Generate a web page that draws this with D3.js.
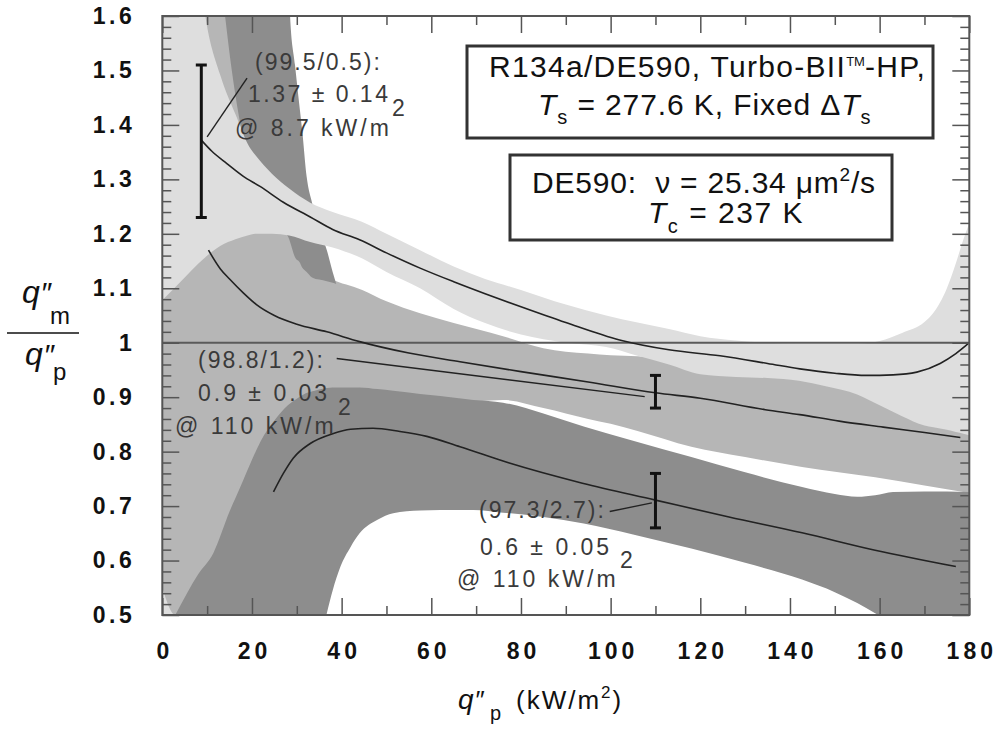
<!DOCTYPE html>
<html>
<head>
<meta charset="utf-8">
<script src="https://cdn.jsdelivr.net/npm/d3@7"></script>
<style>
  html, body { margin: 0; padding: 0; background: #fff; }
  svg { display: block; font-family: "Liberation Sans", Arial, Helvetica, sans-serif; }
  text { white-space: pre; }
</style>
</head>
<body>
<svg id="chart" width="997" height="729"></svg>
<script>
// ---------------- data ----------------
// Axis ticks
const xMajorTicks = [0, 20, 40, 60, 80, 100, 120, 140, 160, 180];
const xMinorTicks = [10, 30, 50, 70, 90, 110, 130, 150, 170];
const yMajorTicks = [0.5, 0.6, 0.7, 0.8, 0.9, 1.0, 1.1, 1.2, 1.3, 1.4, 1.5, 1.6];

// 99.5/0.5 mixture: fitted curve and its confidence band
const curve995Q = [8.7, 11, 14.4, 18, 21.8, 27, 33, 38, 44, 50, 57.5, 65, 72, 80, 90, 102, 113, 124.4, 135, 142.2, 150, 157, 163, 168.3, 173.5, 177, 180];
const curve995V = [1.372, 1.352, 1.329, 1.306, 1.287, 1.258, 1.231, 1.208, 1.189, 1.165, 1.137, 1.112, 1.09, 1.066, 1.037, 1.005, 0.987, 0.976, 0.962, 0.952, 0.944, 0.94, 0.941, 0.946, 0.962, 0.98, 1.0];
const band995Q  = [0, 5, 8, 9.6, 13, 16.3, 19.4, 20.7, 24.5, 28.3, 33, 38, 44.5, 50, 57.5, 65, 72, 80, 90, 99, 106, 113, 120, 128, 135, 142, 148, 155, 160, 165, 170, 172, 175, 177, 178.7, 180];
const band995Hi = [1.8, 1.8, 1.7, 1.6, 1.49, 1.42, 1.36, 1.345, 1.31, 1.283, 1.257, 1.24, 1.222, 1.2, 1.17, 1.14, 1.117, 1.097, 1.07, 1.05, 1.037, 1.025, 1.012, 1.004, 1.0, 0.998, 0.998, 0.998, 1.003, 1.018, 1.038, 1.055, 1.1, 1.146, 1.19, 1.22];
const band995Lo = [1.078, 1.12, 1.145, 1.157, 1.178, 1.19, 1.198, 1.2, 1.2, 1.197, 1.185, 1.175, 1.155, 1.13, 1.1, 1.062, 1.036, 1.015, 1.0, 0.992, 0.976, 0.96, 0.942, 0.937, 0.935, 0.93, 0.92, 0.905, 0.885, 0.865, 0.848, 0.845, 0.84, 0.836, 0.833, 0.83];
// lower-left branch of the same band
const tail995Q  = [0, 3.5];
const tail995Lo = [0.3, 0.3];
const tail995Hi = [0.62, 0.62];

// 98.8/1.2 mixture
const curve988Q = [10.3, 13, 15, 18, 21, 25, 30, 36.7, 44, 55, 66.4, 80, 95, 110, 120, 134.5, 142.2, 151, 160.8, 170, 178];
const curve988V = [1.17, 1.135, 1.117, 1.092, 1.07, 1.05, 1.034, 1.02, 1.002, 0.981, 0.965, 0.947, 0.928, 0.908, 0.898, 0.877, 0.868, 0.856, 0.845, 0.835, 0.826];
const band988Q  = [0, 2.9, 10, 20, 28, 30, 33.4, 35, 37.5, 44.6, 50, 57.5, 65, 76, 85, 95, 100, 106, 118, 130, 142.7, 159, 170, 180];
const band988Hi = [1.12, 1.14, 1.19, 1.22, 1.21, 1.19, 1.15, 1.13, 1.118, 1.097, 1.076, 1.054, 1.036, 1.012, 0.99, 0.98, 0.977, 0.975, 0.965, 0.955, 0.945, 0.92, 0.89, 0.86];
const band988Lo = [0.55, 0.5, 0.55, 0.7, 0.8, 0.83, 0.86, 0.865, 0.87, 0.875, 0.878, 0.882, 0.888, 0.895, 0.88, 0.86, 0.851, 0.838, 0.809, 0.79, 0.772, 0.753, 0.738, 0.724];
// upper branch of the same band
const wing988Q  = [9, 12, 15, 17.5];
const wing988Lo = [1.35, 1.35, 1.35, 1.35];
const wing988Hi = [1.8, 1.8, 1.8, 1.8];

// 97.3/2.7 mixture
const curve973Q = [24.8, 27, 29.2, 33, 38, 42, 47, 53, 59, 66.4, 77.4, 93.7, 110, 126.4, 142.7, 159, 177];
const curve973V = [0.726, 0.76, 0.788, 0.815, 0.833, 0.841, 0.843, 0.837, 0.828, 0.809, 0.779, 0.742, 0.711, 0.68, 0.651, 0.619, 0.589];
const band973Q  = [2.9, 8, 11.4, 15, 17.4, 20, 22, 25, 28, 30, 32, 34, 35.5, 36.7, 38, 39.7, 42, 44, 48, 51.5, 57.5, 62, 69.4, 76, 85, 94, 105, 118, 130, 142.7, 150, 155, 159, 163, 170, 175, 180];
const band973Hi = [0.5, 0.575, 0.614, 0.69, 0.735, 0.785, 0.82, 0.857, 0.885, 0.897, 0.907, 0.912, 0.915, 0.917, 0.918, 0.918, 0.918, 0.918, 0.915, 0.912, 0.906, 0.902, 0.895, 0.89, 0.87, 0.846, 0.82, 0.79, 0.762, 0.735, 0.722, 0.717, 0.72, 0.726, 0.727, 0.727, 0.726];
const band973Lo = [0.2, 0.2, 0.2, 0.2, 0.2, 0.2, 0.2, 0.2, 0.25, 0.3, 0.35, 0.41, 0.46, 0.503, 0.545, 0.588, 0.625, 0.65, 0.675, 0.687, 0.692, 0.693, 0.693, 0.688, 0.68, 0.668, 0.648, 0.622, 0.596, 0.565, 0.542, 0.522, 0.503, 0.483, 0.445, 0.415, 0.38];
// upper branch of the same band
const wing973Q  = [14, 15.5, 17, 20, 24, 27, 28.3, 28.5, 29.6, 30.7, 31.2, 32.2, 33.4, 35, 36.7, 38, 38.8];
const wing973Lo = [1.6, 1.5, 1.42, 1.3, 1.24, 1.205, 1.19, 1.185, 1.157, 1.147, 1.138, 1.13, 1.12, 1.116, 1.113, 1.11, 1.108];
const wing973Hi = [1.8, 1.8, 1.8, 1.8, 1.8, 1.8, 1.66, 1.6, 1.51, 1.427, 1.39, 1.305, 1.257, 1.21, 1.17, 1.13, 1.108];

// Uncertainty bars
const errQ    = [8.7, 110, 110];
const errMid  = [1.37, 0.91, 0.71];
const errHalf = [0.14, 0.03, 0.05];

// Leader lines from labels to the bars: [q1, v1, q2, v2]
const leaderLines = [[10, 1.378, 18.9, 1.486], [38.9, 0.971, 107.6, 0.901], [99.8, 0.69, 109.2, 0.706]];

// ---------------- layout ----------------
const svg = d3.select("#chart");
const P = { left: 162.3, right: 969.3, top: 16, bottom: 615 };
const x = d3.scaleLinear().domain([0, 180]).range([P.left, P.right]);
const y = d3.scaleLinear().domain([0.5, 1.6]).range([P.bottom, P.top]);

const C = { light: "#dedede", mid: "#b6b6b6", dark: "#8d8d8d", frame: "#555", ink: "#111", note: "#3a3a3a" };

svg.append("defs").append("clipPath").attr("id", "plotClip")
  .append("rect").attr("x", P.left).attr("y", P.top)
  .attr("width", P.right - P.left).attr("height", P.bottom - P.top);

const zip3 = (q, lo, hi) => q.map((v, i) => ({ q: v, lo: lo[i], hi: hi[i] }));
const zip2 = (q, v) => q.map((d, i) => ({ q: d, v: v[i] }));

const area = d3.area()
  .x(d => x(d.q)).y0(d => y(d.lo)).y1(d => y(d.hi))
  .curve(d3.curveMonotoneX);
const line = d3.line().x(d => x(d.q)).y(d => y(d.v)).curve(d3.curveMonotoneX);

const plotG = svg.append("g").attr("clip-path", "url(#plotClip)");

// confidence bands, back to front
const bandLayers = [
  { d: zip3(tail995Q, tail995Lo, tail995Hi), fill: C.light },
  { d: zip3(band988Q, band988Lo, band988Hi), fill: C.mid },
  { d: zip3(wing988Q, wing988Lo, wing988Hi), fill: C.mid },
  { d: zip3(band973Q, band973Lo, band973Hi), fill: C.dark },
  { d: zip3(wing973Q, wing973Lo, wing973Hi), fill: C.dark },
  { d: zip3(band995Q, band995Lo, band995Hi), fill: C.light }
];
plotG.selectAll("path.band").data(bandLayers).join("path")
  .attr("class", "band").attr("d", b => area(b.d)).attr("fill", b => b.fill);

// unity reference line
plotG.append("line")
  .attr("x1", x(0)).attr("x2", x(180)).attr("y1", y(1)).attr("y2", y(1))
  .attr("stroke", "#5a5a5a").attr("stroke-width", 2);

// fitted curves
const curves = [zip2(curve995Q, curve995V), zip2(curve988Q, curve988V), zip2(curve973Q, curve973V)];
plotG.selectAll("path.fit").data(curves).join("path")
  .attr("class", "fit").attr("d", line)
  .attr("fill", "none").attr("stroke", "#222").attr("stroke-width", 1.6);

// leader lines
plotG.selectAll("line.leader").data(leaderLines).join("line")
  .attr("class", "leader")
  .attr("x1", d => x(d[0])).attr("y1", d => y(d[1]))
  .attr("x2", d => x(d[2])).attr("y2", d => y(d[3]))
  .attr("stroke", "#222").attr("stroke-width", 1.4);

// uncertainty bars
const errG = svg.append("g").attr("stroke", "#111").attr("stroke-width", 3).attr("fill", "none");
errQ.forEach((q, i) => {
  const cx = x(q), yt = y(errMid[i] + errHalf[i]), yb = y(errMid[i] - errHalf[i]);
  errG.append("line").attr("x1", cx).attr("x2", cx).attr("y1", yt).attr("y2", yb);
  errG.append("line").attr("x1", cx - 5.5).attr("x2", cx + 5.5).attr("y1", yt).attr("y2", yt);
  errG.append("line").attr("x1", cx - 5.5).attr("x2", cx + 5.5).attr("y1", yb).attr("y2", yb);
});

// ---------------- axes ----------------
const yMinorTicks = d3.range(50, 161, 2).map(v => v / 100).filter(v => Math.round(v * 100) % 10 !== 0);
const fmtY = v => (Math.abs(v - 1) < 1e-9 ? "1" : d3.format(".1f")(v));

function styleAxis(g) {
  g.select(".domain").remove();
  g.selectAll(".tick line").attr("stroke", C.frame).attr("stroke-width", 1.5);
}

// left
svg.append("g").attr("transform", `translate(${P.left},0)`)
  .call(d3.axisLeft(y).tickValues(yMinorTicks).tickSize(-9).tickFormat(""))
  .call(styleAxis);
const yAx = svg.append("g").attr("transform", `translate(${P.left},0)`)
  .call(d3.axisLeft(y).tickValues(yMajorTicks).tickSize(-17).tickPadding(27).tickFormat(fmtY))
  .call(styleAxis);
yAx.selectAll(".tick text")
  .attr("font-family", '"Liberation Sans", Arial, sans-serif')
  .attr("font-size", 23).attr("font-weight", "bold").attr("fill", C.ink)
  .attr("letter-spacing", 3.5);

// right
svg.append("g").attr("transform", `translate(${P.right},0)`)
  .call(d3.axisRight(y).tickValues(yMinorTicks).tickSize(-9).tickFormat(""))
  .call(styleAxis);
svg.append("g").attr("transform", `translate(${P.right},0)`)
  .call(d3.axisRight(y).tickValues(yMajorTicks).tickSize(-17).tickFormat(""))
  .call(styleAxis);

// bottom
svg.append("g").attr("transform", `translate(0,${P.bottom})`)
  .call(d3.axisBottom(x).tickValues(xMinorTicks).tickSize(-9).tickFormat(""))
  .call(styleAxis);
const xAx = svg.append("g").attr("transform", `translate(0,${P.bottom})`)
  .call(d3.axisBottom(x).tickValues(xMajorTicks).tickSize(-17).tickPadding(28).tickFormat(d3.format("d")))
  .call(styleAxis);
xAx.selectAll(".tick text")
  .attr("font-family", '"Liberation Sans", Arial, sans-serif')
  .attr("font-size", 23).attr("font-weight", "bold").attr("fill", C.ink)
  .attr("letter-spacing", 4).attr("dx", 2);

// top
svg.append("g").attr("transform", `translate(0,${P.top})`)
  .call(d3.axisTop(x).tickValues(xMinorTicks).tickSize(-9).tickFormat(""))
  .call(styleAxis);
svg.append("g").attr("transform", `translate(0,${P.top})`)
  .call(d3.axisTop(x).tickValues(xMajorTicks).tickSize(-17).tickFormat(""))
  .call(styleAxis);

// frame
svg.append("rect").attr("x", P.left).attr("y", P.top)
  .attr("width", P.right - P.left).attr("height", P.bottom - P.top)
  .attr("fill", "none").attr("stroke", C.frame).attr("stroke-width", 2);

// ---------------- axis titles ----------------
// q''_m / q''_p written as a stacked fraction
const yt = svg.append("g").attr("fill", C.ink);
const num = yt.append("text").attr("x", 22).attr("y", 303).attr("font-size", 32);
num.append("tspan").attr("font-style", "italic").text("q");
num.append("tspan").attr("font-size", 30).attr("dx", 2).text("″");
num.append("tspan").attr("font-size", 24).attr("x", 50).attr("dy", 21).text("m");
yt.append("line").attr("x1", 7).attr("x2", 79).attr("y1", 333).attr("y2", 333)
  .attr("stroke", C.ink).attr("stroke-width", 1.5);
const den = yt.append("text").attr("x", 25).attr("y", 365).attr("font-size", 32);
den.append("tspan").attr("font-style", "italic").text("q");
den.append("tspan").attr("font-size", 30).attr("dx", 2).text("″");
den.append("tspan").attr("font-size", 24).attr("x", 53).attr("dy", 15).text("p");

const xt = svg.append("text").attr("x", 458).attr("y", 709).attr("font-size", 28).attr("fill", C.ink);
xt.append("tspan").attr("font-style", "italic").text("q");
xt.append("tspan").attr("font-size", 26).attr("dx", 2).text("″");
xt.append("tspan").attr("font-size", 20).attr("x", 490).attr("dy", 11).text("p");
xt.append("tspan").attr("font-size", 26).attr("letter-spacing", 2).attr("x", 516).attr("dy", -11).text("(kW/m");
xt.append("tspan").attr("font-size", 17).attr("letter-spacing", 2).attr("dy", -11).text("2");
xt.append("tspan").attr("font-size", 26).attr("letter-spacing", 2).attr("dy", 11).text(")");

// ---------------- annotations ----------------
const notes = [
  { x: 255, y: 70,  t: "(99.5/0.5):", ls: 2 },
  { x: 248, y: 102, t: "1.37 ± 0.14", ls: 2.5 },
  { x: 392, y: 116, t: "2", ls: 0 },
  { x: 235, y: 136, t: "@ 8.7 kW/m", ls: 3 },
  { x: 198, y: 368, t: "(98.8/1.2):", ls: 2 },
  { x: 198, y: 401, t: "0.9 ± 0.03", ls: 3 },
  { x: 338, y: 415, t: "2", ls: 0 },
  { x: 175, y: 434, t: "@ 110 kW/m", ls: 3 },
  { x: 479, y: 518, t: "(97.3/2.7):", ls: 2 },
  { x: 480, y: 555, t: "0.6 ± 0.05", ls: 3 },
  { x: 620, y: 568, t: "2", ls: 0 },
  { x: 457, y: 587, t: "@ 110 kW/m", ls: 3 }
];
svg.append("g").selectAll("text").data(notes).join("text")
  .attr("x", d => d.x).attr("y", d => d.y)
  .attr("font-size", 23).attr("letter-spacing", d => d.ls).attr("fill", C.note)
  .text(d => d.t);

// ---------------- info boxes ----------------
const boxes = svg.append("g");
boxes.append("rect").attr("x", 467).attr("y", 46).attr("width", 466).attr("height", 92)
  .attr("fill", "#fff").attr("stroke", "#333").attr("stroke-width", 3);
boxes.append("rect").attr("x", 510).attr("y", 155).attr("width", 382).attr("height", 85)
  .attr("fill", "#fff").attr("stroke", "#333").attr("stroke-width", 3);

const b1 = boxes.append("text").attr("x", 489).attr("y", 77).attr("font-size", 30).attr("fill", C.ink).attr("letter-spacing", 1.3);
b1.append("tspan").text("R134a/DE590, Turbo-BII");
b1.append("tspan").attr("font-size", 13).attr("letter-spacing", 0).attr("dy", -11).text("TM");
b1.append("tspan").attr("font-size", 30).attr("letter-spacing", 1.3).attr("dy", 11).text("-HP,");

const b2 = boxes.append("text").attr("x", 538).attr("y", 115).attr("font-size", 30).attr("fill", C.ink).attr("letter-spacing", 0.9);
b2.append("tspan").attr("font-style", "italic").text("T");
b2.append("tspan").attr("font-size", 20).attr("dy", 9).text("s");
b2.append("tspan").attr("font-size", 30).attr("dy", -9).text(" = 277.6 K, Fixed Δ");
b2.append("tspan").attr("font-style", "italic").text("T");
b2.append("tspan").attr("font-size", 20).attr("dy", 9).text("s");

const b3 = boxes.append("text").attr("x", 532).attr("y", 193).attr("font-size", 30).attr("fill", C.ink).attr("letter-spacing", 0.8);
b3.append("tspan").text("DE590:  ν = 25.34 μm");
b3.append("tspan").attr("font-size", 19).attr("dy", -12).text("2");
b3.append("tspan").attr("font-size", 30).attr("dy", 12).text("/s");

const b4 = boxes.append("text").attr("x", 648).attr("y", 223).attr("font-size", 30).attr("fill", C.ink).attr("letter-spacing", 1.5);
b4.append("tspan").attr("font-style", "italic").text("T");
b4.append("tspan").attr("font-size", 20).attr("dy", 10).text("c");
b4.append("tspan").attr("font-size", 30).attr("dy", -10).text(" = 237 K");
</script>
</body>
</html>
